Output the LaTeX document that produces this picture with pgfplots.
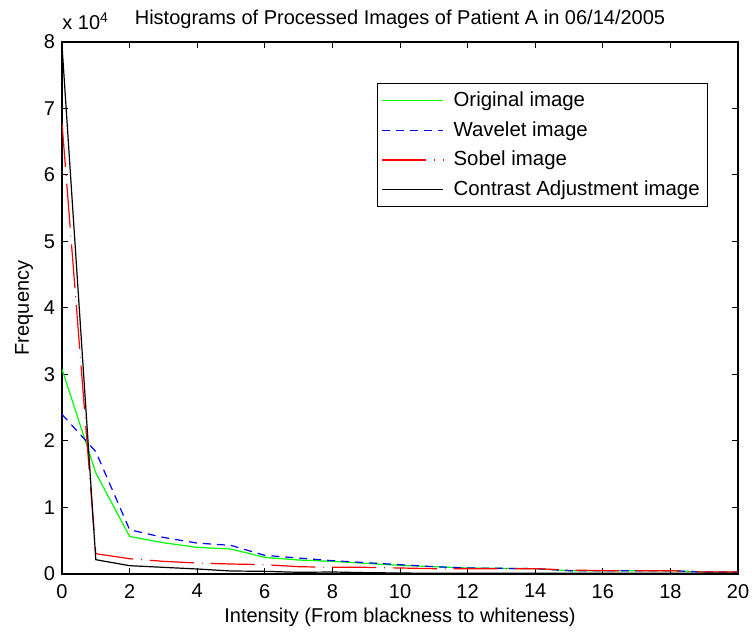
\documentclass[border=0pt]{standalone}
\usepackage{pgfplots}
\pgfplotsset{compat=1.18}
\usepackage{pgfplotstable}
\usepackage{fontspec}
\setmainfont{Liberation Sans}
\pgfplotstableread{
x orig wave sobel contr
0 30800 24000 67800 79500
1 15200 18400 3050 2150
2 5650 6650 2300 1250
3 4700 5500 1900 1000
4 4000 4650 1650 750
5 3750 4300 1500 450
6 2500 2800 1400 400
7 2100 2400 1100 250
8 1900 2000 1000 300
9 1600 1700 1000 200
10 1300 1400 900 150
11 1100 1100 800 100
12 900 900 800 100
13 850 850 800 100
14 800 800 800 100
15 500 500 600 100
16 500 500 500 100
17 500 500 500 100
18 500 500 500 100
19 300 300 300 100
20 300 300 300 100
}\datatable
\begin{document}
\begin{tikzpicture}
\begin{axis}[
  name=ax,
  scale only axis,
  width=338pt, height=266pt,
  xmin=0, xmax=20, ymin=0, ymax=80000,
  xtick={0,2,...,20},
  xticklabels={0,2,4,6,8,10,12,14,16,18,20},
  ytick={0,10000,20000,30000,40000,50000,60000,70000,80000},
  yticklabels={0,1,2,3,4,5,6,7,8},
  scaled y ticks=false,
  scaled x ticks=false,
  tick label style={font=\fontsize{10}{12}\selectfont},
  xticklabel style={yshift=-1.5pt},
  tick align=inside,
  major tick length=3pt,
  axis line style={line width=0.7pt},
  every tick/.style={black, line width=0.5pt},
  every axis title shift=0pt,
  title={Histograms of Processed Images of Patient A in 06/14/2005},
  title style={at={(rel axis cs:0.5,1)}, anchor=base, yshift=8.5pt, inner sep=0pt, font=\fontsize{10}{12}\selectfont},
  xlabel={Intensity (From blackness to whiteness)},
  xlabel style={at={(axis description cs:0.5,-0.0921)}, anchor=base, inner sep=0pt, font=\fontsize{10}{12}\selectfont},
  ylabel={Frequency},
  ylabel style={at={(axis description cs:-0.056,0.5)}, anchor=center, inner sep=0pt, font=\fontsize{10}{12}\selectfont},
  legend style={at={(rel axis cs:0.956,0.923)}, anchor=north east, line width=0.6pt, font=\fontsize{10.2}{12}\selectfont, inner sep=2pt, row sep=2pt, cells={anchor=west}},
  legend cell align=left,
  legend image code/.code={\draw[#1, line width=0.6pt] (5.5pt,0pt) -- (36pt,0pt); \path (39pt,0pt);},
]
\addplot[color=green, draw=green, line width=0.6pt] table[x=x, y=orig] {\datatable};
\addlegendentry{Original image}
\addplot[color=blue, draw=blue, line width=0.6pt, dash pattern=on 4pt off 3pt] table[x=x, y=wave] {\datatable};
\addlegendentry{Wavelet image}
\addplot[color=red, draw=red, line width=0.6pt, dash pattern=on 22pt off 4pt on 0.4pt off 4pt] table[x=x, y=sobel] {\datatable};
\addlegendentry{Sobel image}
\addplot[color=black, draw=black, line width=0.6pt] table[x=x, y=contr] {\datatable};
\addlegendentry{Contrast Adjustment image}
\end{axis}
\node[anchor=base west, inner sep=0pt, font=\fontsize{10}{12}\selectfont] at ([yshift=6pt]ax.north west) {x 10\textsuperscript{4}};
\pgfresetboundingbox
\path ([shift={(-31pt,-29pt)}]ax.south west) rectangle ([shift={(7pt,21pt)}]ax.north east);
\end{tikzpicture}
\end{document}
